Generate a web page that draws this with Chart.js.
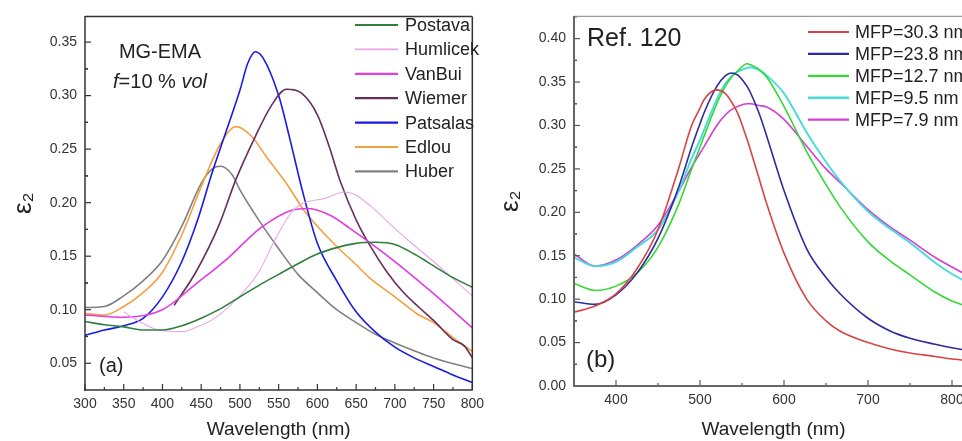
<!DOCTYPE html>
<html>
<head>
<meta charset="utf-8">
<script src="https://cdn.jsdelivr.net/npm/chart.js@4/dist/chart.umd.min.js"></script>
<style>
  html, body { margin: 0; padding: 0; background: #fff; overflow: hidden; }
  body { width: 962px; height: 441px; position: relative; }
  #boxA { position: absolute; left: 0; top: 0; width: 490px; height: 441px; }
  #boxB { position: absolute; left: 490px; top: 0; width: 486px; height: 441px; }
</style>
</head>
<body>
<div id="boxA"><canvas id="G1"></canvas></div>
<div id="boxB"><canvas id="G2"></canvas></div>
<script>
// (a) MG-EMA, f = 10 % vol
const wlPostava  = [300, 325, 350, 375, 400, 425, 450, 475, 500, 525, 550, 575, 600, 625, 650, 675, 700, 725, 750, 775, 800];
const epsPostava = [0.089, 0.086, 0.084, 0.081, 0.081, 0.085, 0.092, 0.101, 0.112, 0.123, 0.133, 0.143, 0.152, 0.158, 0.162, 0.163, 0.161, 0.152, 0.141, 0.130, 0.121];

const wlHumlicek  = [350, 370, 395, 425, 445, 465, 485, 505, 525, 545, 567, 580, 610, 635, 650, 670, 700, 725, 750, 775, 800];
const epsHumlicek = [0.098, 0.089, 0.081, 0.0795, 0.084, 0.091, 0.1025, 0.117, 0.136, 0.165, 0.1915, 0.199, 0.204, 0.210, 0.207, 0.196, 0.176, 0.160, 0.145, 0.129, 0.113];

const wlVanBui  = [300, 350, 400, 443, 485, 526, 567, 588, 617, 642, 700, 750, 800];
const epsVanBui = [0.095, 0.093, 0.100, 0.124, 0.1485, 0.176, 0.193, 0.1945, 0.188, 0.176, 0.145, 0.115, 0.083];

const wlWiemer  = [415, 443, 473, 495, 520, 540, 560, 580, 600, 615, 630, 650, 667, 690, 710, 730, 750, 775, 790, 800];
const epsWiemer = [0.104, 0.135, 0.179, 0.222, 0.262, 0.290, 0.306, 0.302, 0.282, 0.253, 0.219, 0.184, 0.161, 0.135, 0.117, 0.103, 0.090, 0.072, 0.066, 0.055];

const wlPatsalas  = [300, 325, 350, 375, 400, 425, 445, 465, 480, 500, 510, 520, 530, 550, 565, 580, 600, 625, 650, 675, 700, 725, 750, 775, 800];
const epsPatsalas = [0.076, 0.081, 0.085, 0.092, 0.112, 0.145, 0.183, 0.230, 0.262, 0.305, 0.330, 0.341, 0.335, 0.300, 0.258, 0.213, 0.162, 0.127, 0.098, 0.079, 0.065, 0.055, 0.047, 0.039, 0.032];

const wlEdlou  = [300, 325, 350, 375, 400, 425, 450, 475, 495, 515, 535, 559, 584, 600, 625, 650, 667, 700, 729, 750, 775, 800];
const epsEdlou = [0.0965, 0.095, 0.103, 0.116, 0.135, 0.170, 0.215, 0.255, 0.271, 0.262, 0.242, 0.219, 0.1915, 0.178, 0.159, 0.142, 0.130, 0.112, 0.096, 0.088, 0.074, 0.061];

const wlHuber  = [300, 325, 350, 375, 400, 425, 450, 465, 475, 490, 500, 525, 550, 575, 600, 625, 650, 675, 700, 750, 800];
const epsHuber = [0.102, 0.103, 0.113, 0.127, 0.146, 0.178, 0.218, 0.232, 0.234, 0.226, 0.212, 0.183, 0.157, 0.133, 0.116, 0.100, 0.088, 0.077, 0.069, 0.055, 0.045];

const xTicksA = [300, 350, 400, 450, 500, 550, 600, 650, 700, 750, 800];
const yTicksA = [0.05, 0.10, 0.15, 0.20, 0.25, 0.30, 0.35];

// (b) Ref. 120, different mean free paths
const wlRef = [350, 375, 400, 425, 450, 475, 490, 500, 505, 520, 530, 537, 545, 556, 560, 570, 580, 600, 627, 650, 667, 700, 725, 750, 780, 800, 825];
const eps303 = [0.085, 0.092, 0.106, 0.135, 0.180, 0.252, 0.300, 0.320, 0.330, 0.341, 0.337, 0.328, 0.314, 0.284, 0.272, 0.240, 0.208, 0.153, 0.100, 0.075, 0.063, 0.050, 0.043, 0.038, 0.034, 0.031, 0.029];
const eps238 = [0.097, 0.094, 0.105, 0.130, 0.170, 0.230, 0.275, 0.302, 0.315, 0.345, 0.357, 0.3605, 0.358, 0.345, 0.338, 0.315, 0.286, 0.225, 0.158, 0.125, 0.106, 0.078, 0.064, 0.055, 0.048, 0.044, 0.040];
const eps127 = [0.118, 0.110, 0.115, 0.130, 0.160, 0.210, 0.250, 0.275, 0.288, 0.325, 0.345, 0.355, 0.363, 0.371, 0.370, 0.365, 0.355, 0.322, 0.270, 0.232, 0.206, 0.166, 0.145, 0.128, 0.108, 0.098, 0.090];
const eps95  = [0.148, 0.138, 0.143, 0.160, 0.180, 0.225, 0.262, 0.283, 0.295, 0.330, 0.348, 0.356, 0.362, 0.366, 0.367, 0.364, 0.357, 0.337, 0.292, 0.258, 0.236, 0.201, 0.182, 0.165, 0.142, 0.129, 0.116];
const eps79  = [0.152, 0.138, 0.145, 0.162, 0.185, 0.225, 0.252, 0.268, 0.276, 0.300, 0.312, 0.318, 0.322, 0.325, 0.325, 0.323, 0.321, 0.307, 0.276, 0.250, 0.234, 0.203, 0.184, 0.168, 0.148, 0.137, 0.124];

const xTicksB = [400, 500, 600, 700, 800];
const yTicksB = [0.00, 0.05, 0.10, 0.15, 0.20, 0.25, 0.30, 0.35, 0.40];

const FONT = "'Liberation Sans', Arial, sans-serif";
Chart.defaults.font.family = FONT;
Chart.defaults.color = '#333';

function pts(xs, ys) {
  return xs.map((x, i) => ({x: x, y: ys[i]}));
}

function line(label, xs, ys, color, width) {
  return {
    label: label,
    data: pts(xs, ys),
    borderColor: color,
    backgroundColor: color,
    borderWidth: width || 1.6,
    pointRadius: 0,
    cubicInterpolationMode: 'monotone',
    fill: false
  };
}

// box, inward major/minor ticks
const frameTicks = {
  id: 'frameTicks',
  afterDatasetsDraw(chart, args, o) {
    const ctx = chart.ctx, a = chart.chartArea;
    const sx = chart.scales.x, sy = chart.scales.y;
    ctx.save();
    ctx.lineCap = 'butt';
    ctx.strokeStyle = o.tickColor;
    ctx.lineWidth = 1.2;
    const xs = o.xMajor, ys = o.yMajor;
    const tick = (x1, y1, x2, y2) => { ctx.beginPath(); ctx.moveTo(x1, y1); ctx.lineTo(x2, y2); ctx.stroke(); };
    xs.forEach((v, i) => {
      const p = sx.getPixelForValue(v);
      if (p >= a.left - 1 && p <= a.right + 1) tick(p, a.bottom, p, a.bottom - 6);
      const m = sx.getPixelForValue(v + o.xMinor);
      if (m > a.left && m < a.right) tick(m, a.bottom, m, a.bottom - 3);
      if (i === 0) {
        const m0 = sx.getPixelForValue(v - o.xMinor);
        if (m0 > a.left) tick(m0, a.bottom, m0, a.bottom - 3);
      }
    });
    ys.forEach(v => {
      const p = sy.getPixelForValue(v);
      if (p <= a.bottom + 1 && p >= a.top) tick(a.left, p, a.left + 6, p);
      const m = sy.getPixelForValue(v + o.yMinor);
      if (m < a.bottom && m > a.top) tick(a.left, m, a.left + 3, m);
      const m0 = sy.getPixelForValue(v - o.yMinor);
      if (m0 < a.bottom && m0 > a.top) tick(a.left, m0, a.left + 3, m0);
    });
    // frame
    ctx.strokeStyle = o.topColor;
    ctx.lineWidth = o.topWidth;
    tick(a.left, a.top, a.right, a.top);
    tick(a.right, a.top, a.right, a.bottom);
    ctx.strokeStyle = o.axisColor;
    ctx.lineWidth = o.axisWidth;
    tick(a.left, a.top - 0.5, a.left, a.bottom + 1);
    tick(a.left - 1, a.bottom, a.right + 0.5, a.bottom);
    ctx.restore();
  }
};

// legend drawn as a column of line samples (canvas coordinates)
const sideLegend = {
  id: 'sideLegend',
  afterDatasetsDraw(chart, args, o) {
    const ctx = chart.ctx;
    ctx.save();
    ctx.font = o.font;
    ctx.textBaseline = 'middle';
    ctx.textAlign = 'left';
    chart.data.datasets.forEach((ds, i) => {
      const y = o.y + i * o.gap;
      ctx.strokeStyle = ds.borderColor;
      ctx.lineWidth = ds.borderWidth + 0.6;
      ctx.beginPath();
      ctx.moveTo(o.x, y);
      ctx.lineTo(o.x + o.len, y);
      ctx.stroke();
      ctx.fillStyle = '#222';
      ctx.fillText(ds.label, o.x + o.len + o.pad, y + 1);
    });
    ctx.restore();
  }
};

// free text inside the plot; each item is a list of [text, italic] runs
const notes = {
  id: 'notes',
  afterDatasetsDraw(chart, args, o) {
    const ctx = chart.ctx;
    ctx.save();
    ctx.textBaseline = 'middle';
    ctx.textAlign = 'left';
    ctx.fillStyle = '#222';
    o.items.forEach(it => {
      let w = 0;
      it.runs.forEach(r => {
        ctx.font = (r[1] ? 'italic ' : '') + it.size + 'px ' + FONT;
        w += ctx.measureText(r[0]).width;
      });
      let x = it.center ? it.x - w / 2 : it.x;
      it.runs.forEach(r => {
        ctx.font = (r[1] ? 'italic ' : '') + it.size + 'px ' + FONT;
        ctx.fillText(r[0], x, it.y);
        x += ctx.measureText(r[0]).width;
      });
    });
    ctx.restore();
  }
};

function axes(xMin, xMax, yMin, yMax, xTicks, yTicks, yWidth, xHeight, yTitlePad) {
  return {
    x: {
      type: 'linear', min: xMin, max: xMax,
      grid: {display: false, drawTicks: false},
      border: {display: false},
      afterBuildTicks: s => { s.ticks = xTicks.map(v => ({value: v})); },
      afterFit: s => { s.height = xHeight; },
      ticks: {font: {size: 14}, padding: 6, maxRotation: 0, color: '#333'},
      title: {display: true, text: 'Wavelength (nm)', font: {size: 19}, color: '#222', padding: {top: 0, bottom: 0}}
    },
    y: {
      type: 'linear', min: yMin, max: yMax,
      grid: {display: false, drawTicks: false},
      border: {display: false},
      afterBuildTicks: s => { s.ticks = yTicks.map(v => ({value: v})); },
      afterFit: s => { s.width = yWidth; },
      ticks: {font: {size: 14}, padding: 8, color: '#333', callback: v => v.toFixed(2)},
      title: {display: true, text: 'ε₂', font: {size: 26}, color: '#222', padding: {top: yTitlePad, bottom: 0}}
    }
  };
}

new Chart(document.getElementById('G1'), {
  type: 'line',
  data: {
    datasets: [
      line('Postava', wlPostava, epsPostava, '#2f7f3f'),
      line('Humlicek', wlHumlicek, epsHumlicek, '#e8a6e8', 1.1),
      line('VanBui', wlVanBui, epsVanBui, '#e03ce0'),
      line('Wiemer', wlWiemer, epsWiemer, '#6b2d5e'),
      line('Patsalas', wlPatsalas, epsPatsalas, '#1a1ae6'),
      line('Edlou', wlEdlou, epsEdlou, '#f5a040'),
      line('Huber', wlHuber, epsHuber, '#808080')
    ]
  },
  options: {
    responsive: true,
    maintainAspectRatio: false,
    animation: false,
    layout: {padding: {top: 12, right: 3, left: 0, bottom: 0}},
    scales: axes(300, 800, 0.025, 0.374, xTicksA, yTicksA, 85, 51, 8),
    plugins: {
      legend: {display: false},
      tooltip: {enabled: false},
      frameTicks: {xMajor: xTicksA, yMajor: yTicksA, xMinor: 25, yMinor: 0.025,
                   tickColor: '#333', axisColor: '#333', axisWidth: 1.5, topColor: '#333', topWidth: 1.5},
      sideLegend: {x: 355, y: 25, gap: 24.4, len: 43, pad: 7, font: '18px ' + FONT},
      notes: {items: [
        {runs: [['MG-EMA', false]], x: 160, y: 52, size: 20, center: true},
        {runs: [['f', true], ['=10 % ', false], ['vol', true]], x: 160, y: 82, size: 20, center: true},
        {runs: [['(a)', false]], x: 99, y: 366, size: 20}
      ]}
    }
  },
  plugins: [frameTicks, sideLegend, notes]
});

new Chart(document.getElementById('G2'), {
  type: 'line',
  data: {
    datasets: [
      line('MFP=30.3 nm', wlRef, eps303, '#d64545'),
      line('MFP=23.8 nm', wlRef, eps238, '#2b2b9c'),
      line('MFP=12.7 nm', wlRef, eps127, '#35d835'),
      line('MFP=9.5 nm', wlRef, eps95, '#45dcdc', 1.9),
      line('MFP=7.9 nm', wlRef, eps79, '#d23fd2')
    ]
  },
  options: {
    responsive: true,
    maintainAspectRatio: false,
    animation: false,
    layout: {padding: {top: 16, right: 3, left: 0, bottom: 0}},
    scales: axes(350, 825, 0, 0.4256, xTicksB, yTicksB, 84, 55, 5),
    plugins: {
      legend: {display: false},
      tooltip: {enabled: false},
      frameTicks: {xMajor: xTicksB, yMajor: yTicksB, xMinor: 50, yMinor: 0.025,
                   tickColor: '#555', axisColor: '#666', axisWidth: 2, topColor: '#999', topWidth: 1.2},
      sideLegend: {x: 318, y: 32, gap: 21.9, len: 41, pad: 6, font: '18px ' + FONT},
      notes: {items: [
        {runs: [['Ref. 120', false]], x: 97, y: 39, size: 25},
        {runs: [['(b)', false]], x: 96, y: 360, size: 24}
      ]}
    }
  },
  plugins: [frameTicks, sideLegend, notes]
});
</script>
</body>
</html>
